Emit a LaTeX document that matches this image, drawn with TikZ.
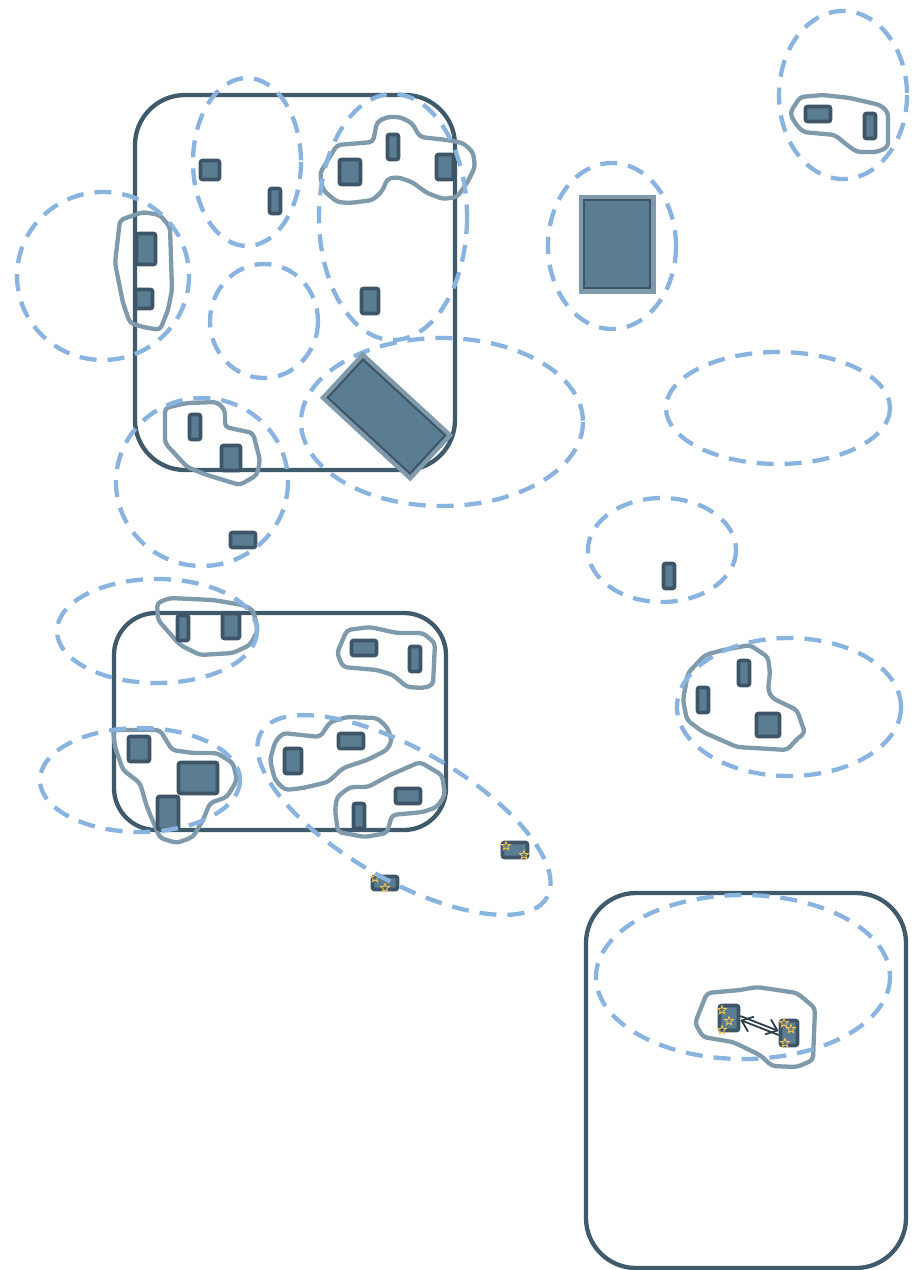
\documentclass[tikz,border=0pt]{standalone}
\usepackage{tikz}
\usetikzlibrary{arrows.meta, shapes.geometric}

\definecolor{boxline}{HTML}{3F5A6B}
\definecolor{objfill}{HTML}{5A7D91}
\definecolor{objline}{HTML}{3D5566}
\definecolor{hullline}{HTML}{7F9AAB}
\definecolor{zoneline}{HTML}{8AB4E0}
\definecolor{starcol}{HTML}{F2C14E}
\definecolor{arrowcol}{HTML}{2E3E4A}

\begin{document}
\begin{tikzpicture}[x=1pt, y=-1pt,
  roombox/.style={draw=boxline, line width=4.3pt},
  zone/.style={draw=zoneline, line width=4.3pt, dash pattern=on 17pt off 11pt},
  hull/.style={draw=hullline, line width=4.3pt, rounded corners=4pt, line join=round},
  objbox/.style={rectangle, rounded corners=2pt, draw=objline, fill=objfill,
    line width=3.6pt, inner sep=0pt},
  selbox/.style={rectangle, draw=objline, fill=objfill, line width=2pt,
    inner sep=0pt, preaction={draw=hullline, line width=11pt}},
  starmark/.style={star, star points=5, star point ratio=2.3, draw=starcol,
    line width=0.9pt, minimum size=9pt, inner sep=0pt},
  arr/.style={-{Straight Barb[length=10pt, width=16pt]}, line width=1.8pt, draw=arrowcol}
]
\useasboundingbox (0,0) rectangle (913,1270);
\fill[white] (0,0) rectangle (913,1270);

%% ==== Rooms ====
\draw[roombox, rounded corners=50pt] (135,95) rectangle (455,470);
\draw[roombox, rounded corners=42pt] (114,613) rectangle (446,830);
\draw[roombox, rounded corners=50pt] (586,893) rectangle (906,1268);

%% ==== Groups ====
\draw[hull] (320,173) -- (337,145) -- (373,142) -- (377,122) -- (387,117) -- (400,117)
  -- (412,123) -- (420,137) -- (447,140) -- (463,143) -- (473,152) -- (475,167)
  -- (467,183) -- (457,197) -- (443,199) -- (427,193) -- (412,182) -- (397,177)
  -- (387,179) -- (383,190) -- (373,200) -- (350,203) -- (337,202) -- (323,190) -- cycle;
\draw[hull] (120,220) -- (143,212) -- (160,215) -- (170,227) -- (172,290) -- (168,310)
  -- (160,330) -- (143,327) -- (130,323) -- (123,303) -- (115,263) -- cycle;
\draw[hull] (165,408) -- (187,403) -- (217,402) -- (225,410) -- (225,427) -- (253,433)
  -- (260,460) -- (257,475) -- (240,485) -- (207,475) -- (187,467) -- (165,443) -- cycle;
\draw[hull] (157,603) -- (170,598) -- (213,600) -- (243,605) -- (253,610) -- (258,630)
  -- (250,645) -- (233,653) -- (200,655) -- (180,645) -- (158,620) -- cycle;
\draw[hull] (337,653) -- (347,630) -- (370,627) -- (397,633) -- (423,633) -- (435,643)
  -- (433,685) -- (423,688) -- (407,687) -- (393,675) -- (377,670) -- (343,667) -- cycle;
\draw[hull] (113,730) -- (160,730) -- (172,750) -- (193,753) -- (217,753) -- (233,763)
  -- (237,780) -- (227,797) -- (210,803) -- (203,820) -- (193,837) -- (177,843)
  -- (160,838) -- (147,807) -- (140,783) -- (123,770) -- (115,747) -- cycle;
\draw[hull] (275,742) -- (283,733) -- (320,737) -- (330,722) -- (347,717) -- (377,718)
  -- (387,727) -- (392,740) -- (387,750) -- (367,760) -- (343,768) -- (328,782)
  -- (303,788) -- (285,790) -- (275,780) -- (270,760) -- cycle;
\draw[hull] (337,797) -- (350,787) -- (368,787) -- (390,775) -- (420,762) -- (442,775)
  -- (445,795) -- (437,807) -- (423,812) -- (392,815) -- (387,833) -- (365,837)
  -- (338,832) -- (335,810) -- cycle;
\draw[hull] (688,673) -- (705,655) -- (723,650) -- (750,645) -- (768,657) -- (770,673)
  -- (768,690) -- (772,698) -- (797,710) -- (805,733) -- (798,738) -- (787,750)
  -- (737,747) -- (703,732) -- (687,720) -- (683,700) -- cycle;
\draw[hull] (790,113) -- (800,97) -- (823,95) -- (850,98) -- (880,105) -- (888,112)
  -- (888,147) -- (877,152) -- (857,152) -- (847,145) -- (835,135) -- (803,132)
  -- (795,123) -- cycle;
\draw[hull] (707,993) -- (740,990) -- (757,987) -- (797,993) -- (815,1008) -- (813,1060)
  -- (797,1067) -- (772,1066) -- (760,1055) -- (733,1042) -- (703,1037) -- (695,1023) -- cycle;

%% ==== Objects ====
\foreach \n/\px/\py/\w/\h in {o1/210/170/19/19, o2/275/201/11/25, o3/350/172/21/25,
    o4/393/147/11/25, o5/445/167/17/25, o6/146/249/19/31, o7/144/299/17/19,
    o8/370/301/17/25, o9/195/427/11/25, o10/231/458/19/25, o11/243/540/25/15,
    o12/669/576/11/25, o13/818/114/25/15, o14/870/126/11/25, o15/183/628/11/25,
    o16/231/626/17/25, o17/364/648/25/15, o18/415/659/11/25, o19/139/749/21/25,
    o20/198/778/39/31, o21/168/813/21/33, o22/293/761/17/25, o23/351/741/25/15,
    o24/359/816/11/25, o25/408/796/25/15, o26/703/700/11/25, o27/744/673/11/25,
    o28/768/725/23/23, st1/515/850/25/15, st2/385/883/25/13, st3/729/1018/19/25,
    st4/789/1033/17/25}
  \node[objbox, minimum width=\w pt, minimum height=\h pt] (\n) at (\px,\py) {};

%% ==== Marked objects ====
\foreach \i/\px/\py in {1/506/846, 2/524/855, 3/375/878, 4/385/888, 5/722/1010,
    6/729/1021, 7/722/1030, 8/784/1023, 9/791/1029, 10/785/1043}
  \node[starmark] (mk\i) at (\px,\py) {};

%% ==== Zones ====
\draw[zone] (103,276) ellipse [x radius=86, y radius=84];
\draw[zone] (247,162) ellipse [x radius=54, y radius=84];
\draw[zone] (393,217) ellipse [x radius=74, y radius=123];
\draw[zone] (264,321) ellipse [x radius=54, y radius=57];
\draw[zone] (442,422) ellipse [x radius=141, y radius=84];
\draw[zone] (202,482) ellipse [x radius=86, y radius=84];
\draw[zone] (612,246) ellipse [x radius=64, y radius=83];
\draw[zone] (843,95) ellipse [x radius=64, y radius=84];
\draw[zone] (778,408) ellipse [x radius=112, y radius=56];
\draw[zone] (662,550) ellipse [x radius=74, y radius=52];
\draw[zone] (157,631) ellipse [x radius=100, y radius=52];
\draw[zone] (140,780) ellipse [x radius=100, y radius=52];
\draw[zone, rotate around={-30:(404,815)}] (404,815) ellipse [x radius=165, y radius=65];
\draw[zone] (743,977) ellipse [x radius=147, y radius=82];
\draw[zone] (789,707) ellipse [x radius=112, y radius=69];

%% ==== Selected objects ====
\node[selbox, minimum width=66pt, minimum height=88pt] (sel1) at (617,244) {};
\node[selbox, minimum width=112pt, minimum height=52pt, rotate=-42.7] (sel2) at (386.5,416.5) {};

%% ==== Links ====
\draw[arr] ([yshift=-2pt]st4.west) -- ([yshift=-2pt]st3.east);
\draw[arr] ([yshift=2pt]st3.east) -- ([yshift=2pt]st4.west);

\end{tikzpicture}
\end{document}
